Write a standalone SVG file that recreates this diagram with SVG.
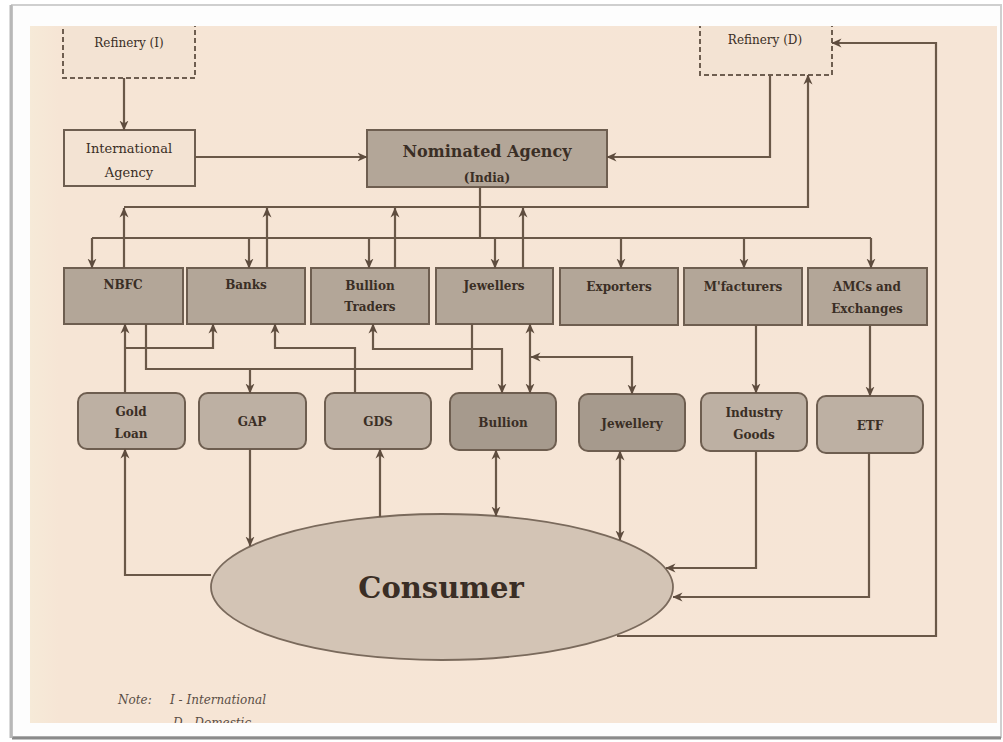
<svg xmlns="http://www.w3.org/2000/svg" width="1003" height="742" viewBox="0 0 1003 742">
<defs>
<style>
.bx{fill:#b3a698;stroke:#6e5e50;stroke-width:2}
.rb{fill:#bdb0a3;stroke:#6e5e50;stroke-width:2}
.rd{fill:#a69a8d;stroke:#6e5e50;stroke-width:2}
.dash{fill:#f3e3d3;stroke:#6e5e50;stroke-width:2;stroke-dasharray:5,3}
.lt{fill:#f3e3d3;stroke:#6e5e50;stroke-width:2}
.t{font-family:"DejaVu Serif","Liberation Serif",serif;fill:#3a2e25;text-anchor:middle}
.b{font-weight:bold}
.c path{fill:none;stroke:#6a5848;stroke-width:2.2}
.n{font-family:"DejaVu Serif","Liberation Serif",serif;font-style:italic;font-size:12px;fill:#5a4e45}
</style>
<marker id="ah" viewBox="0 0 10 10" refX="9.5" refY="5" markerWidth="10" markerHeight="10" markerUnits="userSpaceOnUse" orient="auto-start-reverse"><path d="M0,0.5 L10,5 L0,9.5 L3,5 z" fill="#5e4c3e"/></marker>
<clipPath id="pan"><rect x="30" y="26" width="967" height="697"/></clipPath>
<linearGradient id="lg" x1="0" x2="1" y1="0" y2="0"><stop offset="0" stop-color="#f6ead8"/><stop offset="0.03" stop-color="#f6e5d5"/><stop offset="1" stop-color="#f6e5d6"/></linearGradient>
</defs>
<rect x="0" y="0" width="1003" height="742" fill="#ffffff"/>
<rect x="12" y="5" width="989" height="732" fill="#fdfdfd" stroke="#cfcfcf" stroke-width="2"/>
<line x1="12" y1="738" x2="1001" y2="738" stroke="#8a8a8a" stroke-width="3"/>
<line x1="11" y1="5" x2="11" y2="738" stroke="#b8b8b8" stroke-width="3"/>
<rect x="30" y="26" width="967" height="697" fill="url(#lg)"/>
<g clip-path="url(#pan)">
<g id="refinery-i"><rect class="dash" x="63" y="10" width="132" height="68"/><text class="t" x="129" y="47" font-size="12">Refinery (I)</text></g>
<g id="refinery-d"><rect class="dash" x="700" y="10" width="132" height="65"/><text class="t" x="765" y="44" font-size="12">Refinery (D)</text></g>
<g id="international-agency"><rect class="lt" x="64" y="130" width="131" height="56"/><text class="t" x="129" y="153" font-size="13">International</text><text class="t" x="129" y="177" font-size="13">Agency</text></g>
<g id="nominated-agency"><rect class="bx" x="367" y="130" width="240" height="57"/><text class="t b" x="487" y="157" font-size="16">Nominated Agency</text><text class="t b" x="487" y="182" font-size="12">(India)</text></g>
<g id="nbfc"><rect class="bx" x="64" y="268" width="119" height="56"/><text class="t b" x="123" y="289" font-size="12">NBFC</text></g>
<g id="banks"><rect class="bx" x="187" y="268" width="118" height="56"/><text class="t b" x="246" y="289" font-size="12">Banks</text></g>
<g id="bullion-traders"><rect class="bx" x="311" y="268" width="118" height="56"/><text class="t b" x="370" y="290" font-size="12">Bullion</text><text class="t b" x="370" y="311" font-size="12">Traders</text></g>
<g id="jewellers"><rect class="bx" x="436" y="268" width="117" height="56"/><text class="t b" x="494" y="290" font-size="12">Jewellers</text></g>
<g id="exporters"><rect class="bx" x="560" y="268" width="118" height="57"/><text class="t b" x="619" y="291" font-size="12">Exporters</text></g>
<g id="mfacturers"><rect class="bx" x="684" y="268" width="118" height="57"/><text class="t b" x="743" y="291" font-size="12">M'facturers</text></g>
<g id="amcs"><rect class="bx" x="808" y="268" width="119" height="57"/><text class="t b" x="867" y="291" font-size="12">AMCs and</text><text class="t b" x="867" y="313" font-size="12">Exchanges</text></g>
<g id="gold-loan"><rect class="rb" x="78" y="393" width="107" height="56" rx="9"/><text class="t b" x="131" y="416" font-size="12">Gold</text><text class="t b" x="131" y="438" font-size="12">Loan</text></g>
<g id="gap"><rect class="rb" x="199" y="393" width="107" height="56" rx="9"/><text class="t b" x="252" y="426" font-size="12">GAP</text></g>
<g id="gds"><rect class="rb" x="325" y="393" width="106" height="56" rx="9"/><text class="t b" x="378" y="426" font-size="12">GDS</text></g>
<g id="bullion"><rect class="rd" x="450" y="393" width="106" height="57" rx="9"/><text class="t b" x="503" y="427" font-size="12">Bullion</text></g>
<g id="jewellery"><rect class="rd" x="579" y="394" width="106" height="57" rx="9"/><text class="t b" x="632" y="428" font-size="12">Jewellery</text></g>
<g id="industry-goods"><rect class="rb" x="701" y="393" width="106" height="58" rx="9"/><text class="t b" x="754" y="417" font-size="12">Industry</text><text class="t b" x="754" y="439" font-size="12">Goods</text></g>
<g id="etf"><rect class="rb" x="817" y="396" width="106" height="57" rx="9"/><text class="t b" x="870" y="430" font-size="12">ETF</text></g>
<g id="consumer"><ellipse cx="442" cy="587" rx="231" ry="73" fill="#d3c4b5" stroke="#7a6a5c" stroke-width="1.8"/><text class="t b" x="441" y="598" font-size="29" fill="#2a211b">Consumer</text></g>
<g class="c" id="connectors">
<path d="M124,78 V130" marker-end="url(#ah)"/>
<path d="M195,157 H367" marker-end="url(#ah)"/>
<path d="M770,75 V157 H607" marker-end="url(#ah)"/>
<path d="M124,207 H808 V75" marker-end="url(#ah)"/>
<path d="M124,268 V208" marker-end="url(#ah)"/>
<path d="M267,268 V208" marker-end="url(#ah)"/>
<path d="M395,268 V208" marker-end="url(#ah)"/>
<path d="M523,268 V208" marker-end="url(#ah)"/>
<path d="M480,187 V238"/>
<path d="M92,238 H871"/>
<path d="M92,238 V268" marker-end="url(#ah)"/>
<path d="M249,238 V268" marker-end="url(#ah)"/>
<path d="M369,238 V268" marker-end="url(#ah)"/>
<path d="M495,238 V268" marker-end="url(#ah)"/>
<path d="M621,238 V268" marker-end="url(#ah)"/>
<path d="M744,238 V268" marker-end="url(#ah)"/>
<path d="M871,238 V268" marker-end="url(#ah)"/>
<path d="M125,393 V324" marker-end="url(#ah)"/>
<path d="M125,348 H213 V324" marker-end="url(#ah)"/>
<path d="M146,324 V369 H472 V324"/>
<path d="M250,369 V393" marker-end="url(#ah)"/>
<path d="M355,393 V348 H275 V324" marker-end="url(#ah)"/>
<path d="M373,324 V349 H502 V393" marker-start="url(#ah)" marker-end="url(#ah)"/>
<path d="M530,324 V393" marker-start="url(#ah)" marker-end="url(#ah)"/>
<path d="M531,357 H632 V394" marker-start="url(#ah)" marker-end="url(#ah)"/>
<path d="M756,325 V393" marker-end="url(#ah)"/>
<path d="M870,325 V396" marker-end="url(#ah)"/>
<path d="M211,575 H125 V449" marker-end="url(#ah)"/>
<path d="M250,449 V546" marker-end="url(#ah)"/>
<path d="M380,517 V449" marker-end="url(#ah)"/>
<path d="M496,450 V516" marker-start="url(#ah)" marker-end="url(#ah)"/>
<path d="M620,451 V540" marker-start="url(#ah)" marker-end="url(#ah)"/>
<path d="M756,451 V568 H666" marker-end="url(#ah)"/>
<path d="M869,453 V597 H673" marker-end="url(#ah)"/>
<path d="M617,636 H936 V43 H832" marker-end="url(#ah)"/>
</g>
<g id="note">
<text class="n" x="118" y="704">Note:</text>
<text class="n" x="170" y="704">I - International</text>
<text class="n" x="173" y="727">D - Domestic</text>
</g>
</g>
</svg>
